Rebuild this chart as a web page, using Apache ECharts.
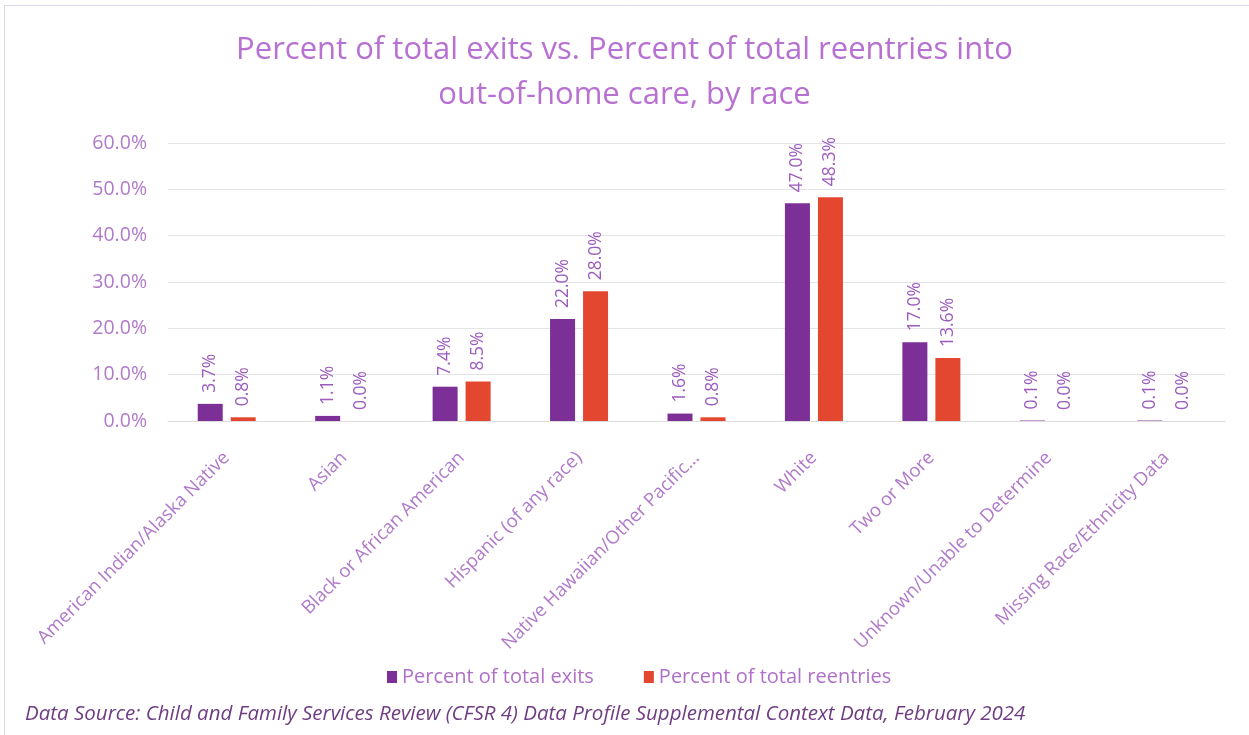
<!DOCTYPE html>
<html>
<head>
<meta charset="utf-8">
<title>Percent of total exits vs. Percent of total reentries</title>
<script src="https://cdn.jsdelivr.net/npm/echarts@6/dist/echarts.min.js"></script>
<style>
  html, body { margin: 0; padding: 0; background: #ffffff; }
  #chart { width: 1249px; height: 735px; }
</style>
</head>
<body>
<div id="chart"></div>
<script>
// Race / ethnicity groups along the x axis
const categories = [
  'American Indian/Alaska Native',
  'Asian',
  'Black or African American',
  'Hispanic (of any race)',
  'Native Hawaiian/Other Pacific...',
  'White',
  'Two or More',
  'Unknown/Unable to Determine',
  'Missing Race/Ethnicity Data'
];

// Share of all exits from out-of-home care (%)
const exitsPct = [3.7, 1.1, 7.4, 22.0, 1.6, 47.0, 17.0, 0.1, 0.1];

// Share of all reentries into out-of-home care (%)
const reentriesPct = [0.8, 0.0, 8.5, 28.0, 0.8, 48.3, 13.6, 0.0, 0.0];

const seriesNames = ['Percent of total exits', 'Percent of total reentries'];

const FONT = '"Open Sans", "DejaVu Sans", sans-serif';
const LABEL_COLOR = '#b07ac9';
const VALUE_COLOR = '#9d5bbd';

const chart = echarts.init(document.getElementById('chart'), null, { renderer: 'canvas' });

function valueLabel() {
  return {
    show: true,
    position: 'top',
    rotate: 90,
    align: 'left',
    verticalAlign: 'middle',
    distance: 11,
    color: VALUE_COLOR,
    fontFamily: FONT,
    fontSize: 17.5,
    formatter: p => p.value.toFixed(1) + '%'
  };
}

chart.setOption({
  backgroundColor: '#ffffff',
  animation: false,
  title: {
    text: 'Percent of total exits vs. Percent of total reentries into\nout-of-home care, by race',
    left: 'center',
    top: 23,
    textStyle: {
      fontFamily: FONT,
      fontSize: 31,
      fontWeight: 'normal',
      color: '#b870d2',
      lineHeight: 45
    }
  },
  legend: {
    data: seriesNames,
    top: 662,
    left: 382,
    icon: 'rect',
    itemWidth: 10,
    itemHeight: 12,
    itemGap: 50,
    textStyle: { fontFamily: FONT, fontSize: 20, color: '#b070c8' }
  },
  grid: {
    left: 168,
    right: 24,
    top: 143,
    bottom: 314,
    containLabel: false
  },
  xAxis: {
    type: 'category',
    data: categories,
    boundaryGap: true,
    axisLine: { show: true, lineStyle: { color: '#dcdcdc', width: 1 } },
    axisTick: { show: false },
    axisLabel: {
      rotate: 45,
      interval: 0,
      margin: 34,
      color: LABEL_COLOR,
      fontFamily: FONT,
      fontSize: 18.5
    }
  },
  yAxis: {
    type: 'value',
    min: 0,
    max: 60,
    interval: 10,
    axisLine: { show: false },
    axisTick: { show: false },
    splitLine: { lineStyle: { color: '#e4e4e8', width: 1 } },
    axisLabel: {
      margin: 21,
      color: LABEL_COLOR,
      fontFamily: FONT,
      fontSize: 19.5,
      formatter: v => v.toFixed(1) + '%'
    }
  },
  series: [
    {
      name: seriesNames[0],
      type: 'bar',
      data: exitsPct,
      barWidth: 25,
      barGap: '32%',
      itemStyle: { color: '#7d2f98' },
      label: valueLabel()
    },
    {
      name: seriesNames[1],
      type: 'bar',
      data: reentriesPct,
      barWidth: 25,
      barGap: '32%',
      itemStyle: { color: '#e4472f' },
      label: valueLabel()
    }
  ],
  graphic: [
    {
      type: 'polyline',
      silent: true,
      shape: { points: [[4.5, 735], [4.5, 5.5], [1249, 5.5]] },
      style: { stroke: '#ddd8ea', lineWidth: 1, fill: null }
    },
    {
      type: 'text',
      left: 25,
      top: 704,
      style: {
        text: 'Data Source: Child and Family Services Review (CFSR 4) Data Profile Supplemental Context Data, February 2024',
        fontFamily: FONT,
        fontStyle: 'italic',
        fontSize: 20.5,
        fill: '#6f3d82'
      }
    }
  ]
});
</script>
</body>
</html>
